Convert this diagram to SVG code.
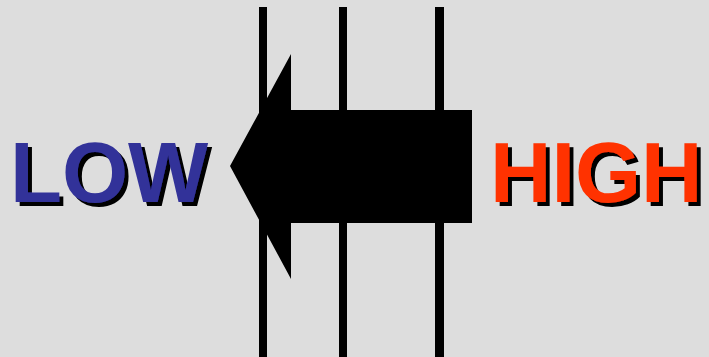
<svg xmlns="http://www.w3.org/2000/svg" width="709" height="357" viewBox="0 0 709 357">
<defs>
<filter id="shadow" x="-10%" y="-10%" width="130%" height="130%">
<feOffset in="SourceAlpha" dx="4" dy="4" result="off"/>
<feFlood flood-color="#000"/>
<feComposite in2="off" operator="in" result="sh"/>
<feMerge><feMergeNode in="sh"/><feMergeNode in="SourceGraphic"/></feMerge>
</filter>
</defs>
<style>
.t{font-family:"Liberation Sans",Arial,sans-serif;font-weight:bold;font-size:85px;filter:url(#shadow)}
.bar{fill:#000}
</style>
<rect width="709" height="357" fill="#dddddd"/>
<g id="lines">
<rect class="bar" x="259" y="7" width="8" height="350"/>
<rect class="bar" x="339" y="7" width="8" height="350"/>
<rect class="bar" x="435" y="7" width="9" height="350"/>
</g>
<g id="arrow">
<polygon fill="#000" points="230,166 291,54 291,110 472,110 472,223 291,223 291,279"/>
</g>
<g id="low">
<text class="t" x="10" y="202" fill="#333399">LOW</text>
</g>
<g id="high">
<text class="t" x="490" y="202" fill="#ff3300">HIGH</text>
</g>
</svg>
